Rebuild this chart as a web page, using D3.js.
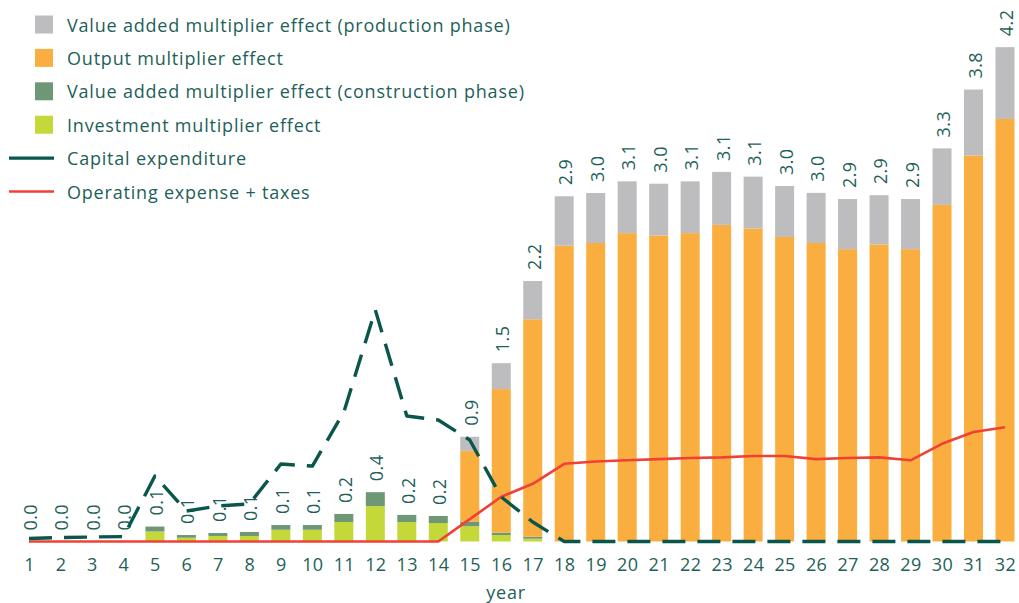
<!DOCTYPE html>
<html>
<head>
<meta charset="utf-8">
<script src="https://cdn.jsdelivr.net/npm/d3@7"></script>
<style>
  html, body { margin: 0; padding: 0; background: #ffffff; }
  svg { display: block; }
  text { font-family: "Open Sans", "Noto Sans", sans-serif; fill: #1e5f59; }
</style>
</head>
<body>
<svg id="chart" width="1019" height="603"></svg>
<script>
// Years on the horizontal axis
const years = d3.range(1, 33);

// Stacked components (bottom to top)
const investment = [0, 0, 0, 0, 0.085, 0.032, 0.047, 0.047, 0.10, 0.10, 0.166, 0.30, 0.166, 0.157, 0.13, 0.055, 0.024,
  0, 0, 0, 0, 0, 0, 0, 0, 0, 0, 0, 0, 0, 0, 0];
const valueAddedConstruction = [0, 0, 0, 0, 0.042, 0.023, 0.025, 0.034, 0.04, 0.04, 0.068, 0.119, 0.06, 0.06, 0.04, 0.02, 0.017,
  0, 0, 0, 0, 0, 0, 0, 0, 0, 0, 0, 0, 0, 0, 0];
const output = [0, 0, 0, 0, 0, 0, 0, 0, 0, 0, 0, 0, 0, 0, 0.60, 1.22, 1.847,
  2.513, 2.536, 2.62, 2.60, 2.62, 2.69, 2.66, 2.587, 2.536, 2.484, 2.523, 2.484, 2.86, 3.28, 3.59];
const valueAddedProduction = [0, 0, 0, 0, 0, 0, 0, 0, 0, 0, 0, 0, 0, 0, 0.12, 0.22, 0.325,
  0.42, 0.425, 0.44, 0.44, 0.44, 0.45, 0.44, 0.433, 0.426, 0.426, 0.419, 0.426, 0.48, 0.56, 0.61];

// Line series
const capex = [0.025, 0.034, 0.038, 0.042, 0.556, 0.259, 0.302, 0.319, 0.658, 0.641, 1.10, 1.967, 1.066, 1.032, 0.862, 0.378, 0.166,
  0, 0, 0, 0, 0, 0, 0, 0, 0, 0, 0, 0, 0, 0, 0];
const opexTaxes = [0, 0, 0, 0, 0, 0, 0, 0, 0, 0, 0, 0, 0, 0, 0.19, 0.38, 0.49,
  0.66, 0.68, 0.69, 0.70, 0.71, 0.715, 0.726, 0.726, 0.70, 0.71, 0.715, 0.69, 0.83, 0.93, 0.97];

// Series names, legend order
const barSeries = [
  { key: "vaProd", name: "Value added multiplier effect (production phase)", color: "#bdbdbf", values: valueAddedProduction },
  { key: "output", name: "Output multiplier effect", color: "#fbae40", values: output },
  { key: "vaCons", name: "Value added multiplier effect (construction phase)", color: "#6e9875", values: valueAddedConstruction },
  { key: "invest", name: "Investment multiplier effect", color: "#c4d83a", values: investment }
];
const lineSeries = [
  { name: "Capital expenditure", color: "#0b564b", width: 3.4, values: capex },
  { name: "Operating expense + taxes", color: "#ef4136", width: 2.6, values: opexTaxes }
];
const axisTitle = "year";

const svg = d3.select("#chart");

const baseY = 541.5;
const x = d3.scalePoint().domain(years).range([29, 1005]);
const y = d3.scaleLinear().domain([0, 4.5]).range([baseY, baseY - 4.5 * 117.7]);
const barW = 19;

// Stack rows from the component arrays
const rows = years.map((yr, i) => ({
  year: yr,
  invest: investment[i],
  vaCons: valueAddedConstruction[i],
  output: output[i],
  vaProd: valueAddedProduction[i]
}));
const stackOrder = ["invest", "vaCons", "output", "vaProd"];
const stacked = d3.stack().keys(stackOrder)(rows);
const colorOf = Object.fromEntries(barSeries.map(s => [s.key, s.color]));

const gBars = svg.append("g");
gBars.selectAll("g")
  .data(stacked)
  .join("g")
  .attr("fill", d => colorOf[d.key])
  .selectAll("rect")
  .data(d => d)
  .join("rect")
  .attr("x", d => x(d.data.year) - barW / 2)
  .attr("width", barW)
  .attr("y", d => y(d[1]))
  .attr("height", d => Math.max(0, y(d[0]) - y(d[1])));

// Total labels above each bar, rotated
const totals = rows.map(r => r.invest + r.vaCons + r.output + r.vaProd);
const fmt = d3.format(".1f");
svg.append("g").selectAll("text")
  .data(years)
  .join("text")
  .attr("transform", (d, i) => `translate(${x(d) + 1},${y(totals[i]) - 11}) rotate(-90)`)
  .attr("text-anchor", "start")
  .attr("dominant-baseline", "central")
  .attr("font-size", 18)
  .attr("letter-spacing", 0.4)
  .text((d, i) => fmt(totals[i]));

// Lines
const lineGen = vals => d3.line()
  .x((d, i) => x(years[i]))
  .y(d => y(d))(vals);

svg.append("path")
  .attr("d", lineGen(opexTaxes))
  .attr("fill", "none")
  .attr("stroke", lineSeries[1].color)
  .attr("stroke-width", lineSeries[1].width)
  .attr("stroke-linejoin", "round");

svg.append("path")
  .attr("d", lineGen(capex))
  .attr("fill", "none")
  .attr("stroke", lineSeries[0].color)
  .attr("stroke-width", lineSeries[0].width)
  .attr("stroke-dasharray", "23,12")
  .attr("stroke-linejoin", "round");

// X axis
const xAxis = svg.append("g")
  .attr("transform", `translate(0,${baseY})`)
  .call(d3.axisBottom(x).tickSize(0));
xAxis.select(".domain").remove();
xAxis.selectAll("text")
  .attr("y", 23)
  .attr("dy", "0.35em")
  .attr("font-size", 18)
  .attr("letter-spacing", 0.4)
  .attr("font-family", "Open Sans, sans-serif")
  .attr("fill", "#1e5f59");

svg.append("text")
  .attr("x", 506)
  .attr("y", 592)
  .attr("text-anchor", "middle")
  .attr("dominant-baseline", "central")
  .attr("font-size", 18)
  .attr("letter-spacing", 0.8)
  .text(axisTitle);

// Legend
const legend = svg.append("g");
const rowStep = 33.4;
const firstRow = 24.5;
barSeries.forEach((s, i) => {
  const cy = firstRow + i * rowStep;
  legend.append("rect")
    .attr("x", 35).attr("y", cy - 9)
    .attr("width", 18).attr("height", 18)
    .attr("fill", s.color);
  legend.append("text")
    .attr("x", 67).attr("y", cy)
    .attr("dominant-baseline", "central")
    .attr("font-size", 18)
    .attr("letter-spacing", 0.8)
    .text(s.name);
});
lineSeries.forEach((s, i) => {
  const cy = firstRow + (barSeries.length + i) * rowStep;
  legend.append("line")
    .attr("x1", 9).attr("x2", 54)
    .attr("y1", cy).attr("y2", cy)
    .attr("stroke", s.color)
    .attr("stroke-width", s.width);
  legend.append("text")
    .attr("x", 67).attr("y", cy)
    .attr("dominant-baseline", "central")
    .attr("font-size", 18)
    .attr("letter-spacing", 0.8)
    .text(s.name);
});
</script>
</body>
</html>
